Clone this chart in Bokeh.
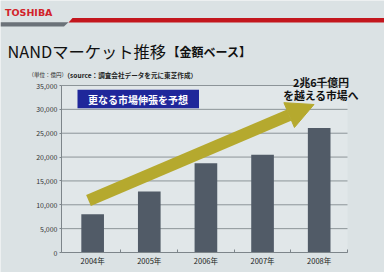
from bokeh.plotting import figure
from bokeh.models import (Range1d, FixedTicker, NumeralTickFormatter, Label, LinearAxis,
                          BoxAnnotation, Arrow, NormalHead, ColumnDataSource)
from bokeh.embed import file_html
from bokeh.resources import INLINE

# ---- data ----
years = ["2004年", "2005年", "2006年", "2007年", "2008年"]
market = [8000, 12800, 18700, 20500, 26100]   # 億円
y_ticks = [0, 5000, 10000, 15000, 20000, 25000, 30000, 35000]

brand = "TOSHIBA"
title_main = "NANDマーケット推移"
title_sub = "【金額ベース】"
unit_txt = "（単位：億円）"
source_txt = "（source：調査会社データを元に東芝作成）"
box_txt = "更なる市場伸張を予想"
arrow_txt = ["2兆6千億円", "を越える市場へ"]

JP = "Noto Sans CJK JP"
BG = "#dbe2e4"
PLOT_BG = "#e1e7e9"
BAR = "#515b67"
OLIVE = "#b5a92e"
AXC = "#7d858a"

W, H = 384, 272
# chart area in page pixels
AL, AR, AT, AB = 61, 347, 85, 252
X0, X1 = -0.05, 5.0
Y1 = 35000
KX = (X1 - X0) / (AR - AL)
KY = Y1 / (AB - AT)


def dx(px):
    return X0 + (px - AL) * KX


def dy(py):
    return (AB - py) * KY


p = figure(width=W, height=H, x_range=Range1d(dx(0), dx(W)), y_range=Range1d(dy(H), dy(0)),
           output_backend="svg", toolbar_location=None, x_axis_type=None, y_axis_type=None,
           min_border=0)
p.outline_line_color = None
p.background_fill_color = BG
p.border_fill_color = BG

# plot area background
p.add_layout(BoxAnnotation(left=X0, right=X1, bottom=0, top=Y1, fill_color=PLOT_BG,
                           fill_alpha=1.0, line_color=None, level="underlay"))

# gridlines at the y ticks
p.segment(x0=[X0] * len(y_ticks), x1=[X1] * len(y_ticks), y0=y_ticks, y1=y_ticks,
          line_color="#8c9498", line_width=1)

xs = [i + 0.5 for i in range(len(years))]
src = ColumnDataSource(dict(x=xs, top=market))
p.vbar(x="x", top="top", width=0.4, source=src, fill_color=BAR, line_color=None)

yaxis = LinearAxis(fixed_location=X0, bounds=(0, Y1), ticker=FixedTicker(ticks=y_ticks),
                   formatter=NumeralTickFormatter(format="0,0"))
yaxis.major_label_text_font = JP
yaxis.major_label_text_font_size = "7px"
yaxis.major_label_text_color = "#333333"
yaxis.major_tick_in = 0
yaxis.major_tick_out = 2
yaxis.minor_tick_line_color = None
yaxis.major_label_standoff = 2
yaxis.axis_line_color = AXC
yaxis.major_tick_line_color = AXC
p.add_layout(yaxis, "left")

xaxis = LinearAxis(fixed_location=0, bounds=(X0, X1),
                   ticker=FixedTicker(ticks=xs, minor_ticks=[1, 2, 3, 4, 5]))
xaxis.major_label_overrides = {x: y for x, y in zip(xs, years)}
xaxis.major_label_text_font = JP
xaxis.major_label_text_font_size = "7.5px"
xaxis.major_label_text_color = "#222222"
xaxis.major_tick_in = 0
xaxis.major_tick_out = 0
xaxis.minor_tick_in = 3
xaxis.minor_tick_out = 0
xaxis.major_label_standoff = 2
xaxis.axis_line_color = AXC
xaxis.minor_tick_line_color = AXC
p.add_layout(xaxis, "below")

# header bars
p.patch([dx(0), dx(68), dx(63.5), dx(0)], [dy(21.8), dy(21.8), dy(26), dy(26)],
        fill_color="#6b7279", line_color=None)
p.patch([dx(72), dx(W), dx(W), dx(68)], [dy(17.5), dy(17.5), dy(22), dy(22)],
        fill_color="#c3161d", line_color=None)


def lab(px, py, text, size, color="#111111", bold=False, font=JP, align="left"):
    p.add_layout(Label(x=dx(px), y=dy(py), text=text, text_font=font,
                       text_font_size=size, text_font_style="bold" if bold else "normal",
                       text_color=color, text_align=align, text_baseline="middle"))


lab(4.5, 11.5, brand, "9.5px", color="#d2232a", bold=True, font="DejaVu Sans")
lab(7, 50, title_main, "16.3px")
lab(167, 51, title_sub, "12px", bold=True)
lab(28, 74.5, unit_txt, "5.5px", color="#222222")
lab(63, 74.5, source_txt, "6.6px", color="#222222", bold=True)

# blue box
p.add_layout(BoxAnnotation(left=dx(77), right=dx(198.5), top=dy(89.3), bottom=dy(107.7),
                           fill_color="#1f279a", fill_alpha=1.0, line_color=None))
lab(137.5, 98.5, box_txt, "10px", color="white", bold=True, align="center")

# arrow
p.add_layout(Arrow(end=NormalHead(size=27, fill_color=OLIVE, line_color=OLIVE),
                   x_start=dx(88), y_start=dy(200), x_end=dx(313.5), y_end=dy(104),
                   line_color=OLIVE, line_width=12))

# arrow caption
for i, t in enumerate(arrow_txt):
    lab(320.5, 81 + i * 13.5, t, "10.8px", bold=True, align="center")

open("out.html", "w").write(file_html(p, INLINE))
